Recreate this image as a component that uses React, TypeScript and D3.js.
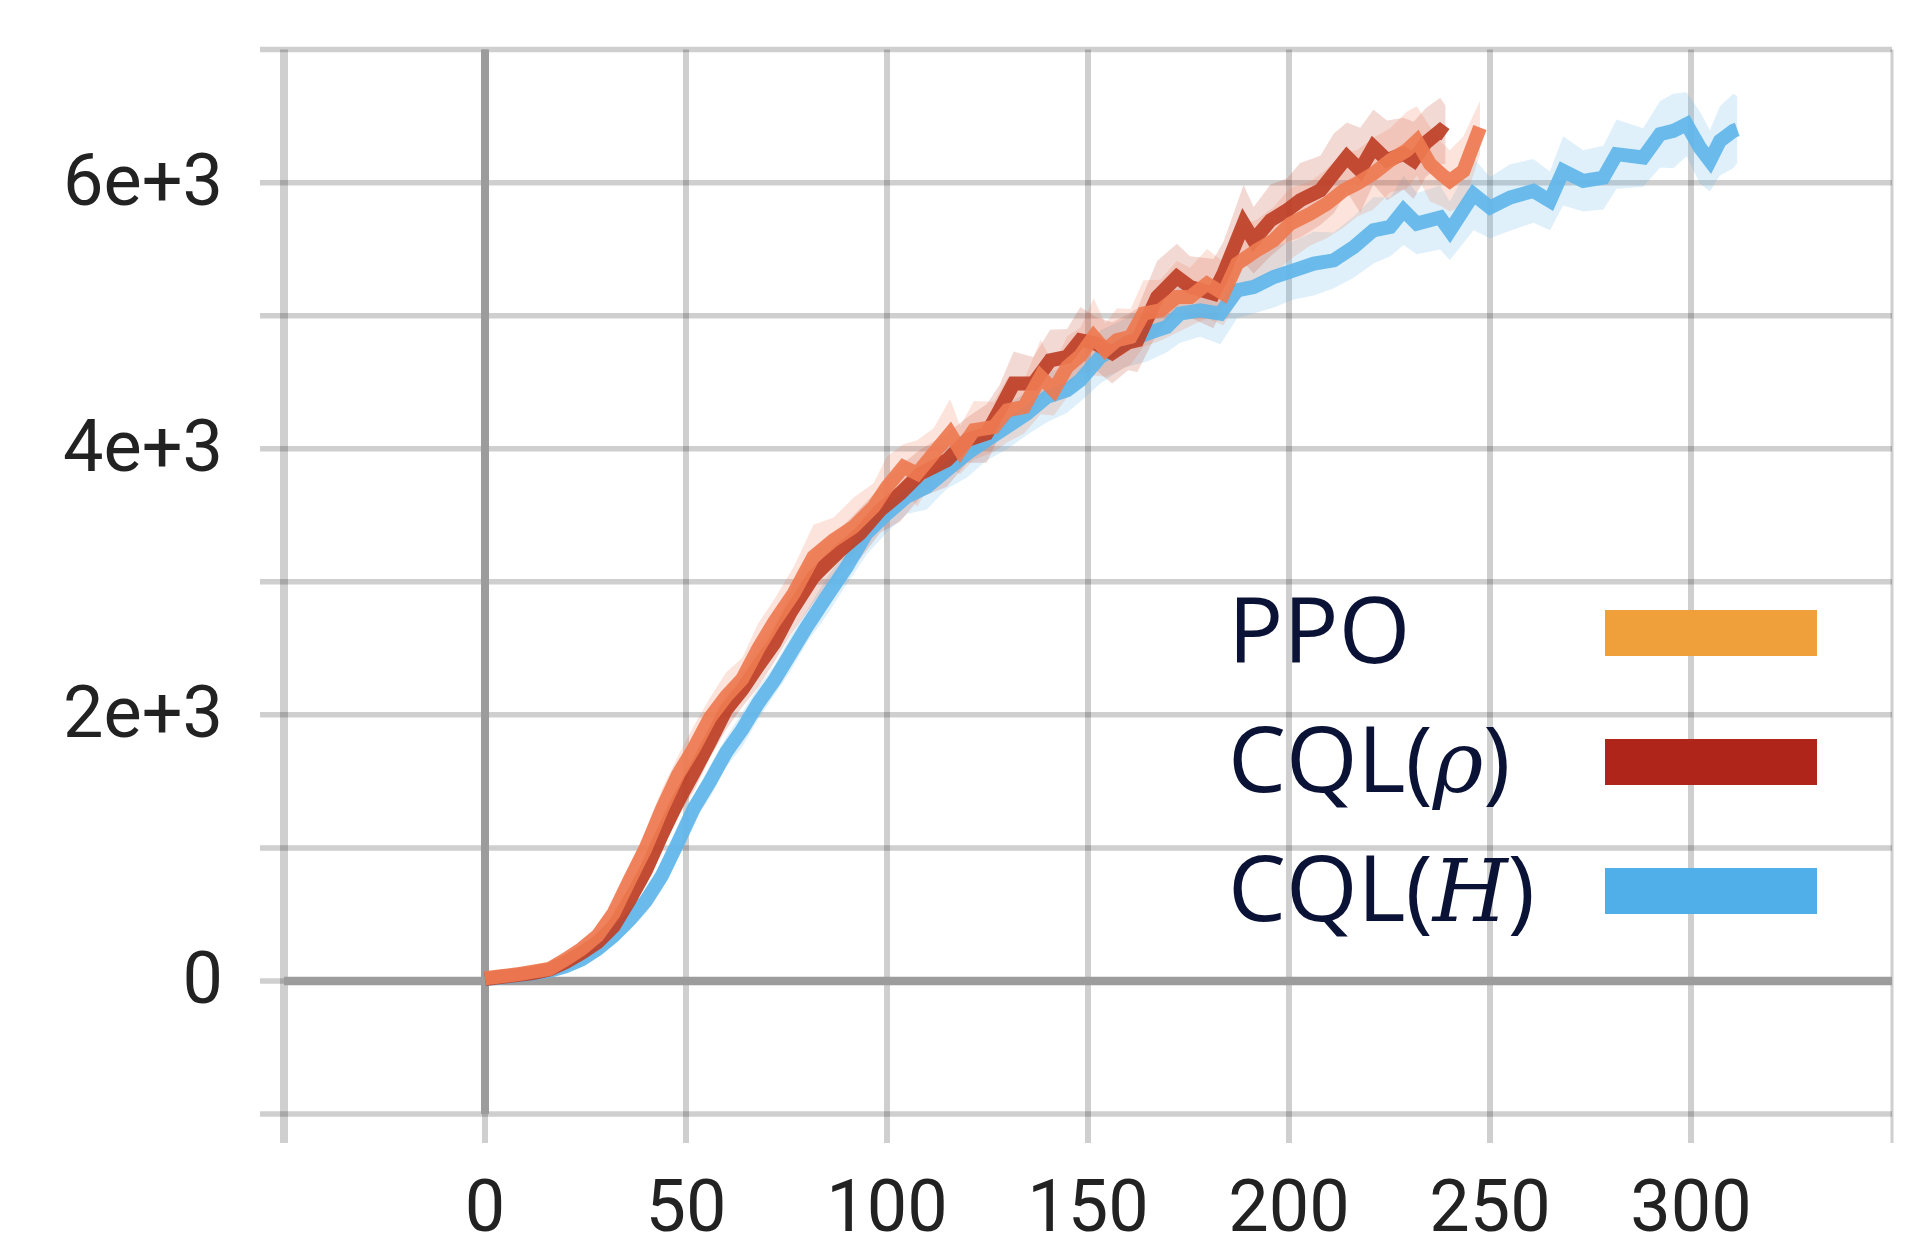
import { scaleLinear, line, area, range } from 'd3';

// ---- data ----
const xTicks = [0, 50, 100, 150, 200, 250, 300];
const yTickLabels = [
  { v: 0, t: '0' },
  { v: 2000, t: '2e+3' },
  { v: 4000, t: '4e+3' },
  { v: 6000, t: '6e+3' },
];

const ppoX = [0, 4, 8, 12, 16, 20, 24, 28, 32, 36, 40, 44, 48, 52, 56, 60, 64, 68, 72, 76.8, 81.7, 86.7, 91.7, 96.7, 100, 104.1, 107.5, 111.6, 115.7, 118.2, 121.6, 126.6, 129.9, 134.1, 138.2, 141.5, 144.8, 148.1, 151.4, 154.3, 157.2, 160.6, 163.8, 168, 172.1, 175.4, 179.6, 183.7, 187.1, 192, 196.2, 200.3, 205.3, 209.4, 213.6, 216.9, 221, 225.2, 229.3, 231.8, 235.1, 238, 240, 243.4, 247.5];
const ppoY = [20, 35, 50, 70, 90, 160, 240, 340, 510, 760, 1000, 1290, 1550, 1750, 1980, 2140, 2270, 2500, 2700, 2913, 3188, 3313, 3413, 3563, 3714, 3864, 3814, 3964, 4114, 3989, 4139, 4164, 4289, 4314, 4540, 4440, 4615, 4700, 4841, 4741, 4816, 4841, 5016, 5041, 5141, 5141, 5241, 5166, 5391, 5492, 5567, 5692, 5767, 5842, 5942, 5993, 6068, 6168, 6243, 6314, 6139, 6060, 6013, 6089, 6414];
const ppoBand = [20, 25, 30, 35, 40, 50, 60, 70, 90, 110, 130, 150, 140, 170, 150, 180, 160, 190, 170, 200, 240, 170, 220, 180, 230, 170, 250, 190, 260, 180, 220, 190, 240, 200, 280, 190, 230, 210, 290, 200, 240, 210, 250, 230, 270, 220, 260, 240, 280, 230, 250, 270, 240, 260, 280, 250, 270, 240, 290, 260, 280, 240, 230, 260, 200];

const cqlRhoX = [0, 4, 8, 12, 16, 20, 24, 28, 32, 36, 40, 44, 48, 52, 56, 60, 64, 68, 72, 76, 81.7, 88.4, 93.3, 98.3, 103.3, 108.3, 114.9, 119.9, 124.8, 128, 131.5, 136.4, 140.6, 144.8, 148.1, 152, 156, 160, 162.3, 167.2, 172.1, 175.4, 181.2, 183.7, 188.7, 191.2, 195.4, 199.5, 202.8, 207.8, 211.1, 214.4, 217.7, 221, 224.4, 228.5, 231, 234, 237.6, 238.9];
const cqlRhoY = [15, 30, 45, 60, 85, 140, 210, 290, 410, 610, 830, 1100, 1350, 1570, 1800, 2040, 2190, 2370, 2540, 2770, 3038, 3238, 3363, 3538, 3664, 3814, 3914, 4064, 4114, 4290, 4490, 4490, 4665, 4690, 4816, 4790, 4720, 4800, 4816, 5141, 5291, 5216, 5166, 5316, 5692, 5567, 5717, 5792, 5867, 5942, 6068, 6193, 6093, 6268, 6168, 6218, 6168, 6300, 6389, 6360];
const cqlRhoBand = [15, 20, 25, 30, 35, 45, 55, 70, 80, 100, 110, 130, 110, 140, 120, 150, 130, 160, 140, 170, 200, 160, 190, 170, 210, 180, 200, 170, 220, 190, 240, 200, 230, 210, 250, 200, 230, 210, 240, 270, 250, 230, 260, 240, 290, 250, 270, 240, 280, 260, 300, 260, 320, 280, 300, 270, 290, 260, 250, 220];

const cqlHX = [0, 4, 8, 12, 16, 20, 24, 28, 32, 36, 40, 44, 48, 52, 56, 60, 64, 68, 72, 76, 80, 85, 90, 94.9, 100, 104.9, 109.9, 114.9, 119.9, 124.8, 129.8, 134.8, 139.8, 144.8, 148.1, 153.1, 158.9, 164.7, 169.6, 172.9, 177.9, 182.9, 187.1, 191.2, 196.2, 201.2, 206.2, 211.1, 216.1, 221, 225.2, 228.5, 231.8, 237.6, 240, 245.9, 250, 255, 260.8, 264.9, 268.2, 273.2, 278.2, 281.5, 288.1, 292.3, 295.6, 298.9, 302.2, 304.7, 307.2, 310.5, 311.5];
const cqlHY = [15, 25, 40, 55, 75, 110, 160, 240, 340, 460, 600, 790, 1040, 1300, 1500, 1720, 1890, 2090, 2260, 2460, 2660, 2888, 3113, 3363, 3513, 3639, 3714, 3839, 3964, 4064, 4164, 4264, 4390, 4440, 4516, 4691, 4791, 4866, 4916, 5016, 5041, 5016, 5191, 5216, 5291, 5341, 5391, 5416, 5516, 5642, 5667, 5792, 5692, 5738, 5638, 5913, 5813, 5888, 5938, 5863, 6089, 6013, 6038, 6214, 6189, 6364, 6389, 6439, 6264, 6164, 6314, 6389, 6400];
const cqlHBand = [15, 20, 25, 30, 35, 40, 50, 60, 70, 80, 90, 100, 110, 100, 120, 110, 130, 120, 110, 130, 120, 140, 130, 160, 140, 130, 170, 140, 180, 150, 170, 160, 190, 170, 160, 200, 180, 210, 190, 220, 200, 230, 210, 200, 230, 220, 240, 210, 230, 250, 220, 260, 230, 240, 220, 270, 230, 250, 240, 220, 260, 230, 240, 260, 220, 250, 280, 240, 270, 230, 260, 280, 250];

const seriesList = [
  { key: 'cqlH', x: cqlHX, y: cqlHY, band: cqlHBand, color: '#5fb6ea' },
  { key: 'cqlRho', x: cqlRhoX, y: cqlRhoY, band: cqlRhoBand, color: '#be3f26' },
  { key: 'ppo', x: ppoX, y: ppoY, band: ppoBand, color: '#ee7a50' },
];

const legendItems = [
  { label: 'PPO', math: '', color: '#f0a03a' },
  { label: 'CQL(', math: 'ρ', color: '#b0251a' },
  { label: 'CQL(', math: 'H', color: '#50aee8' },
];

const W = 1928;
const H = 1258;

type P = { x: number; y: number; b: number };

export default function App() {
  const x = scaleLinear().domain([-50, 350]).range([284, 1892]);
  const y = scaleLinear().domain([-1000, 7000]).range([1114, 49.6]);

  const gridX = range(-50, 351, 50);
  const gridY = range(-1000, 7001, 1000);
  const gridStroke = 'rgba(0,0,0,0.19)';

  const lineGen = line<P>()
    .x((d) => x(d.x))
    .y((d) => y(d.y));
  const areaGen = area<P>()
    .x((d) => x(d.x))
    .y0((d) => y(d.y - d.b))
    .y1((d) => y(d.y + d.b));

  const points = (s: (typeof seriesList)[number]): P[] =>
    s.x.map((xv, i) => ({ x: xv, y: s.y[i], b: s.band[i] ?? 150 }));

  return (
    <svg width={W} height={H} style={{ position: 'absolute', left: 0, top: 0, background: '#fff' }}>
      {/* grid */}
      {gridY.map((v) => (
        <line key={'gy' + v} x1={260} x2={x(350)} y1={y(v)} y2={y(v)} stroke={gridStroke} strokeWidth={5.5} />
      ))}
      {gridX.map((v) => (
        <line
          key={'gx' + v}
          x1={x(v)}
          x2={x(v)}
          y1={y(7000)}
          y2={1143}
          stroke={gridStroke}
          strokeWidth={v === -50 ? 8 : v === 350 ? 3 : 6}
        />
      ))}
      {/* zero lines */}
      <line x1={x(-50)} x2={x(350)} y1={y(0)} y2={y(0)} stroke="#9c9c9c" strokeWidth={8.5} />
      <line x1={x(0)} x2={x(0)} y1={y(7000)} y2={y(-1000)} stroke="#9c9c9c" strokeWidth={8} />

      {/* bands */}
      {seriesList.map((s) => (
        <path key={'a' + s.key} d={areaGen(points(s)) || ''} fill={s.color} fillOpacity={0.2} />
      ))}
      {/* lines */}
      {seriesList.map((s) => (
        <path
          key={'l' + s.key}
          d={lineGen(points(s)) || ''}
          fill="none"
          stroke={s.color}
          strokeWidth={14}
          strokeOpacity={0.92}
          strokeLinejoin="miter"
          strokeMiterlimit={3}
        />
      ))}

      {/* tick labels */}
      {xTicks.map((v) => (
        <text key={'tx' + v} x={x(v)} y={1231} textAnchor="middle" fontFamily="Roboto" fontSize={72} fill="#222">
          {v}
        </text>
      ))}
      {yTickLabels.map((d) => (
        <text key={'ty' + d.v} x={223} y={y(d.v) + 22} textAnchor="end" fontFamily="Roboto" fontSize={72} fill="#222">
          {d.t}
        </text>
      ))}

      {/* legend */}
      {legendItems.map((d, i) => {
        const base = 663 + i * 129;
        return (
          <g key={'lg' + i}>
            <text x={1228} y={base} fontFamily="'Open Sans'" fontSize={92} fill="#0a1236">
              {d.label}
              {d.math && (
                <>
                  <tspan fontFamily="'DejaVu Serif'" fontStyle="italic" fontSize={86}>
                    {d.math}
                  </tspan>
                  <tspan>)</tspan>
                </>
              )}
            </text>
            <rect x={1605} y={base - 53} width={212} height={46} fill={d.color} />
          </g>
        );
      })}
    </svg>
  );
}
